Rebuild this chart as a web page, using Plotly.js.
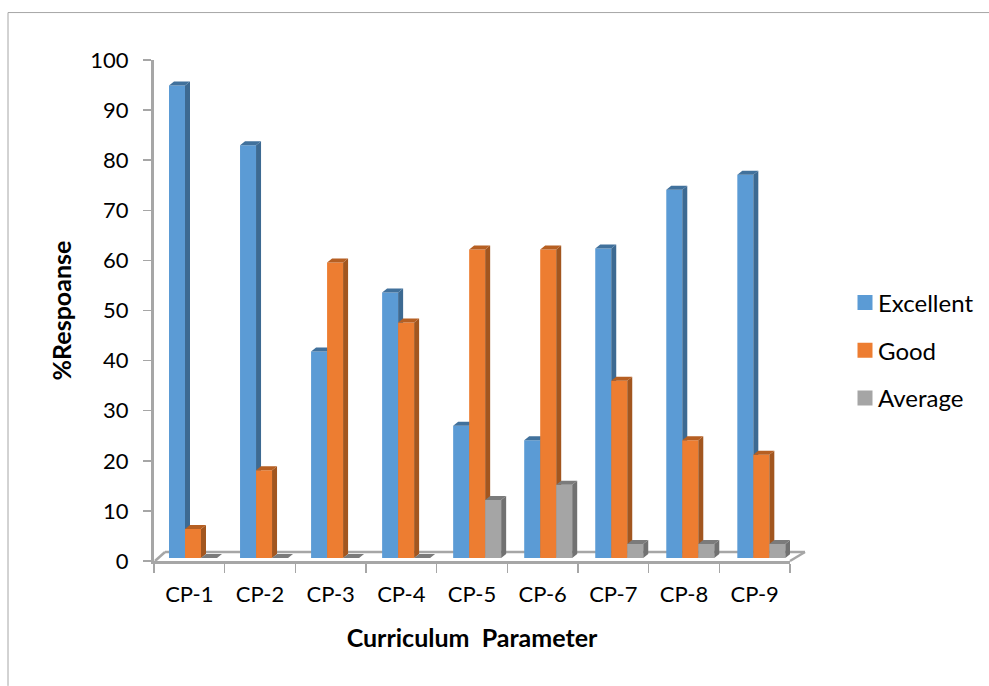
<!DOCTYPE html>
<html><head><meta charset="utf-8">
<script src="https://cdn.plot.ly/plotly-3.0.1.min.js"></script>
<style>html,body{margin:0;padding:0;background:#fff}#c{width:989px;height:686px}</style>
</head><body><div id="c"></div>
<script>
const categories = ["CP-1","CP-2","CP-3","CP-4","CP-5","CP-6","CP-7","CP-8","CP-9"];
const excellent = [94.3,82.4,41.2,53,26.4,23.5,61.8,73.5,76.5];
const good = [5.8,17.5,59,47,61.6,61.6,35.4,23.5,20.6];
const average = [0,0,0,0,11.6,14.6,2.8,2.8,2.8];
const seriesNames = ["Excellent","Good","Average"];
const frontColors = ["#5b9bd5","#ed7d31","#a5a5a5"];
const sideColors = ["#3d6a92","#a2561f","#717171"];
const topColors = ["#41719c","#b65f22","#7b7b7b"];

const W=989,H=686,L=154,R=790,T=59.5,B=561;
const pitch=71.04, center0=193, barPx=16, dxPx=5, dyPx=4, floorPx=3;
const pxPerUnit=(B-T)/100;
const uRange=[(L-center0)/pitch,(R-center0)/pitch];
const w=barPx/pitch, dx=dxPx/pitch, dy=dyPx/pxPerUnit, base=floorPx/pxPerUnit;
const idx=categories.map((_,i)=>i);
const px=(v)=>(v-L)/(R-L), py=(v)=>(B-v)/(B-T);

const traces=[];
seriesNames.forEach((n,s)=>traces.push({type:'bar',name:n,x:categories,y:categories.map(()=>null),
  xaxis:'x',yaxis:'y',legendgroup:n,width:0.2,
  marker:{color:frontColors[s],line:{color:frontColors[s],width:3}},hoverinfo:'skip'}));
[excellent,good,average].forEach((vals,s)=>{
  const xa='x'+(s+2);
  const off=(s-1)*w;
  traces.push({type:'bar',x:idx.map(i=>i+off),y:vals,base:vals.map(()=>base),width:w,showlegend:false,
    xaxis:xa,yaxis:'y',name:seriesNames[s],marker:{color:frontColors[s],line:{width:0}}});
  const sx=[],sy=[],tx=[],ty=[];
  vals.forEach((v,i)=>{
    const l=i+off-w/2,r=i+off+w/2,t=base+v;
    sx.push(r,r+dx,r+dx,r,r,null); sy.push(base,base+dy,t+dy,t,base,null);
    tx.push(l,l+dx,r+dx,r,l,null); ty.push(t,t+dy,t+dy,t,t,null);
  });
  traces.push({type:'scatter',mode:'lines',x:sx,y:sy,fill:'toself',fillcolor:sideColors[s],line:{width:0},
    showlegend:false,hoverinfo:'skip',xaxis:xa,yaxis:'y'});
  traces.push({type:'scatter',mode:'lines',x:tx,y:ty,fill:'toself',fillcolor:topColors[s],line:{width:0},
    showlegend:false,hoverinfo:'skip',xaxis:xa,yaxis:'y'});
});

const axisGray='#a6a6a6';
const font='Lato, "Open Sans", sans-serif';
const overlay=()=>({overlaying:'x',range:uRange,visible:false,fixedrange:true,domain:[0,1],anchor:'y'});
const line=(x0,y0,x1,y1,c,wd)=>({type:'line',xref:'paper',yref:'paper',x0:px(x0),y0:py(y0),x1:px(x1),y1:py(y1),line:{color:c,width:wd},layer:'below'});
const layout={
  width:W,height:H,paper_bgcolor:'#fff',plot_bgcolor:'rgba(0,0,0,0)',
  margin:{l:L,r:W-R,t:T,b:H-B,pad:0},barmode:'overlay',
  font:{family:font,color:'#000',size:22},
  xaxis:{type:'category',categoryorder:'array',categoryarray:categories,range:[-0.5,8.5],tickson:'boundaries',
    ticks:'outside',ticklen:9,tickwidth:1.5,tickcolor:axisGray,showline:true,linecolor:axisGray,linewidth:3,
    showgrid:false,zeroline:false,ticklabelstandoff:12,tickfont:{size:22,family:font},
    title:{text:'Curriculum  Parameter',font:{size:25,family:font,weight:'bold'},standoff:24}},
  xaxis2:overlay(),xaxis3:overlay(),xaxis4:overlay(),
  yaxis:{range:[0,100],tickvals:[0,10,20,30,40,50,60,70,80,90,100],ticks:'outside',ticklen:8,tickwidth:1.5,tickcolor:axisGray,
    showline:true,linecolor:axisGray,linewidth:3,showgrid:false,zeroline:false,ticklabelstandoff:10,tickfont:{size:22,family:font},
    title:{text:'%Respoanse',font:{size:25,family:font,weight:'bold'},standoff:12}},
  legend:{xref:'container',yref:'container',x:845/W,y:(H-280.5)/H,xanchor:'left',yanchor:'top',tracegroupgap:13.5,itemwidth:30,font:{size:24,family:font},bgcolor:'rgba(0,0,0,0)'},
  shapes:[
    line(155,561,165,552,axisGray,2.5),
    line(165,552,805,552,axisGray,2.5),
    line(805,552,790,561,axisGray,2.5),
    line(8,12,989,12,'#a6a6a6',1),
    line(8,12,8,686,'#a6a6a6',1)
  ]
};
Plotly.newPlot('c',traces,layout,{displayModeBar:false,staticPlot:true}).then(()=>{
  document.querySelectorAll('.legendtext').forEach(t=>t.setAttribute('x','33'));
});
</script></body></html>
